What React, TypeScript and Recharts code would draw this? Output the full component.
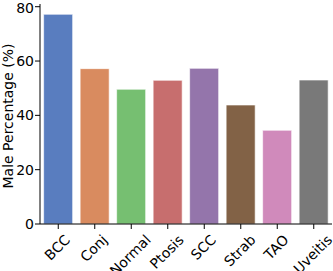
import React from "react";
import { BarChart, Bar, XAxis, YAxis, Cell } from "recharts";

const categories = ["BCC", "Conj", "Normal", "Ptosis", "SCC", "Strab", "TAO", "Uveitis"];
const malePercentage = [77.2, 57.2, 49.6, 52.9, 57.3, 43.8, 34.5, 53.0];
const barColors = ["#597dbf", "#d98b5f", "#76bf71", "#c76e6e", "#9475ab", "#826246", "#d08abb", "#797979"];
const yTicks = [0, 20, 40, 60, 80];

const data = categories.map((c, i) => ({ category: c, value: malePercentage[i] }));

const FONT = "'DejaVu Sans', 'Liberation Sans', sans-serif";
const FS = 14;

let ctx: CanvasRenderingContext2D | null = null;
function measure(text: string): number {
  try {
    if (!ctx) {
      const c = document.createElement("canvas");
      ctx = c.getContext("2d");
    }
    if (ctx) {
      ctx.font = `${FS}px 'DejaVu Sans'`;
      return ctx.measureText(text).width;
    }
  } catch (e) {}
  return text.length * 0.62 * FS;
}

const XTick = (props: any) => {
  const { x, y, payload } = props;
  const text = String(payload.value);
  const w = measure(text);
  const h = FS * 0.85;
  const top = y + 2;
  const cy = top + (w + h) * 0.3536;
  const cx = x - 1;
  return (
    <text
      x={cx}
      y={cy}
      textAnchor="middle"
      dominantBaseline="central"
      transform={`rotate(-45, ${cx}, ${cy})`}
      fontSize={FS}
      fontFamily={FONT}
      fill="#000"
    >
      {text}
    </text>
  );
};

const YLabel = (props: any) => {
  const vb = props.viewBox || {};
  const cy = (vb.y ?? 4) + (vb.height ?? 220) / 2 + 2;
  const cx = 12.5;
  return (
    <text
      x={cx}
      y={cy}
      textAnchor="middle"
      transform={`rotate(-90, ${cx}, ${cy})`}
      fontSize={FS}
      fontFamily={FONT}
      fill="#000"
    >
      Male Percentage (%)
    </text>
  );
};

export default function App() {
  return (
    <div style={{ position: "absolute", left: 0, top: 0, width: 333, height: 271, background: "#fff" }}>
      <BarChart
        width={333}
        height={271}
        data={data}
        margin={{ top: 4, right: 1, left: 0, bottom: 0 }}
        barCategoryGap="10%"
      >
        <XAxis
          dataKey="category"
          interval={0}
          height={47}
          tickSize={5}
          tickLine={{ stroke: "#000", strokeWidth: 1 }}
          axisLine={{ stroke: "#000", strokeWidth: 1 }}
          tick={<XTick />}
        />
        <XAxis
          xAxisId="top"
          orientation="top"
          dataKey="category"
          height={0}
          tick={false}
          tickLine={false}
          axisLine={{ stroke: "#000", strokeWidth: 1 }}
        />
        <YAxis
          width={40}
          domain={[0, 81]}
          ticks={yTicks}
          tickSize={5}
          tickMargin={1}
          tickLine={{ stroke: "#000", strokeWidth: 1 }}
          axisLine={{ stroke: "#000", strokeWidth: 1 }}
          tick={{ fontSize: FS, fontFamily: FONT, fill: "#000" }}
          label={{ content: <YLabel /> }}
          allowDataOverflow
        />
        <YAxis
          yAxisId="right"
          orientation="right"
          width={0}
          domain={[0, 81]}
          tick={false}
          tickLine={false}
          axisLine={{ stroke: "#000", strokeWidth: 1 }}
        />
        <Bar dataKey="value" isAnimationActive={false} stroke="#ffffff" strokeWidth={0.6}>
          {data.map((d, i) => (
            <Cell key={d.category} fill={barColors[i]} />
          ))}
        </Bar>
      </BarChart>
    </div>
  );
}
